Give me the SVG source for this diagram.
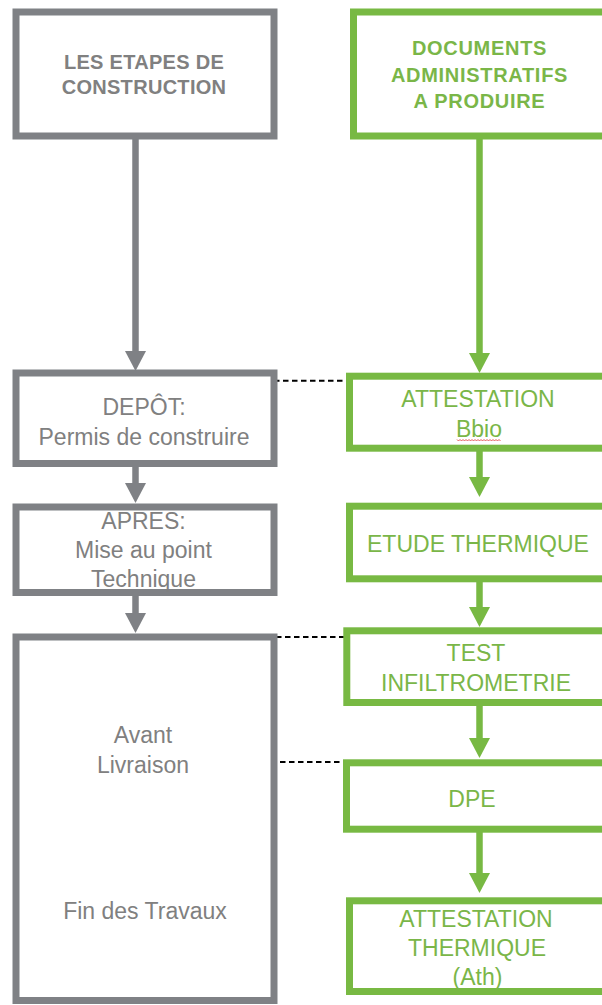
<svg xmlns="http://www.w3.org/2000/svg" width="602" height="1005" viewBox="0 0 602 1005">
<defs>
<marker id="ag" markerUnits="userSpaceOnUse" markerWidth="21" markerHeight="21" viewBox="0 0 20 21" refX="0" refY="10.5" orient="auto"><path d="M0,0 L20,10.5 L0,21 z" fill="#7f8185"/></marker>
<marker id="av" markerUnits="userSpaceOnUse" markerWidth="21" markerHeight="21" viewBox="0 0 20 21" refX="0" refY="10.5" orient="auto"><path d="M0,0 L20,10.5 L0,21 z" fill="#78b943"/></marker>
</defs>
<style>
.g{fill:#fff;stroke:#7f8185;stroke-width:7}
.v{fill:#fff;stroke:#78b943;stroke-width:7}
.tg{font-family:"Liberation Sans",Arial,sans-serif;font-size:23px;fill:#808080;text-anchor:middle}
.tv{font-family:"Liberation Sans",Arial,sans-serif;font-size:23px;fill:#7ab648;text-anchor:middle}
.hg{font-family:"Liberation Sans",Arial,sans-serif;font-size:20px;font-weight:bold;fill:#808080;text-anchor:middle;letter-spacing:0.3px}
.hv{font-family:"Liberation Sans",Arial,sans-serif;font-size:20px;font-weight:bold;fill:#7ab648;text-anchor:middle;letter-spacing:0.7px}
.cg{fill:none;stroke:#7f8185;stroke-width:6.5;marker-end:url(#ag)}
.cv{fill:none;stroke:#78b943;stroke-width:6.5;marker-end:url(#av)}
.d{fill:none;stroke:#000;stroke-width:2;stroke-dasharray:5.5 3.5}
</style>
<g id="connectors">
<path class="cg" d="M135.5,139 V351"/>
<path class="cg" d="M135.5,467 V483"/>
<path class="cg" d="M135.5,596 V613"/>
<path class="cv" d="M479.5,139 V353"/>
<path class="cv" d="M479.5,451 V477"/>
<path class="cv" d="M479.5,582 V607"/>
<path class="cv" d="M479.5,706 V738"/>
<path class="cv" d="M479.5,832 V873"/>
<path class="d" d="M274,380.7 H346"/>
<path class="d" d="M276,637 H344"/>
<path class="d" d="M280,762 H346"/>
</g>
<g id="n-etapes">
<rect class="g" x="16" y="12" width="258" height="124"/>
<text class="hg" x="144" y="69.3">LES ETAPES DE</text>
<text class="hg" x="144" y="94.3">CONSTRUCTION</text>
</g>
<g id="n-documents">
<rect class="v" x="353.5" y="12" width="260" height="124"/>
<text class="hv" x="479.5" y="55">DOCUMENTS</text>
<text class="hv" x="479.5" y="81.7">ADMINISTRATIFS</text>
<text class="hv" x="479.5" y="107.7">A PRODUIRE</text>
</g>
<g id="n-depot">
<rect class="g" x="16" y="373" width="258" height="90.5"/>
<text class="tg" x="144" y="415">DEPÔT:</text>
<text class="tg" x="144" y="444.5">Permis de construire</text>
</g>
<g id="n-apres">
<rect class="g" x="16" y="507" width="258" height="85.5"/>
<text class="tg" x="143.5" y="529.3">APRES:</text>
<text class="tg" x="143.5" y="557.7">Mise au point</text>
<text class="tg" x="143.5" y="586.7">Technique</text>
</g>
<g id="n-livraison">
<rect class="g" x="16" y="637" width="258" height="363.5"/>
<text class="tg" x="143" y="743.3">Avant</text>
<text class="tg" x="143" y="772.7">Livraison</text>
<text class="tg" x="145" y="919">Fin des Travaux</text>
</g>
<g id="n-bbio">
<rect class="v" x="349.5" y="376.2" width="264" height="72"/>
<text class="tv" x="478" y="407.3">ATTESTATION</text>
<text class="tv" x="479" y="436.7">Bbio</text>
<path d="M457,439.5 l1.5,1.5 l1.5,-1.5 l1.5,1.5 l1.5,-1.5 l1.5,1.5 l1.5,-1.5 l1.5,1.5 l1.5,-1.5 l1.5,1.5 l1.5,-1.5 l1.5,1.5 l1.5,-1.5 l1.5,1.5 l1.5,-1.5 l1.5,1.5 l1.5,-1.5 l1.5,1.5 l1.5,-1.5 l1.5,1.5 l1.5,-1.5 l1.5,1.5 l1.5,-1.5 l1.5,1.5 l1.5,-1.5 l1.5,1.5 l1.5,-1.5 l1.5,1.5 l1.5,-1.5 l1.5,1.5" fill="none" stroke="#e03030" stroke-width="0.8"/>
</g>
<g id="n-etude">
<rect class="v" x="349.5" y="506.2" width="264" height="72.6"/>
<text class="tv" x="478" y="551.7">ETUDE THERMIQUE</text>
</g>
<g id="n-test">
<rect class="v" x="346.8" y="630.8" width="266" height="71.7"/>
<text class="tv" x="476" y="661">TEST</text>
<text class="tv" x="476" y="690.7">INFILTROMETRIE</text>
</g>
<g id="n-dpe">
<rect class="v" x="346.5" y="762.8" width="266" height="66.4"/>
<text class="tv" x="472" y="807.3">DPE</text>
</g>
<g id="n-ath">
<rect class="v" x="349.5" y="900.8" width="264" height="90.7"/>
<text class="tv" x="476" y="926.7">ATTESTATION</text>
<text class="tv" x="477" y="956">THERMIQUE</text>
<text class="tv" x="477.5" y="985">(Ath)</text>
</g>
</svg>
